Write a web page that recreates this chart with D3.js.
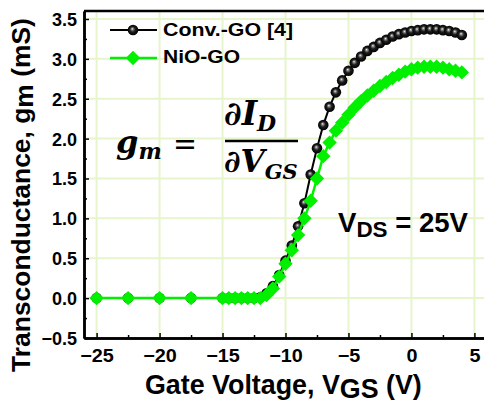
<!DOCTYPE html>
<html>
<head>
<meta charset="utf-8">
<script src="https://cdn.jsdelivr.net/npm/d3@7"></script>
<style>
  body { margin: 0; background: #fff; }
  svg text { font-family: "Liberation Sans", Arial, sans-serif; font-weight: bold; }
</style>
</head>
<body>
<div id="chart"></div>
<script>
// gate voltage sweep (V)
var vgs = [-25, -22.5, -20, -17.5,
  -15, -14.5, -14, -13.5, -13, -12.5, -12, -11.5, -11, -10.5, -10, -9.5, -9, -8.5, -8, -7.5,
  -7, -6.5, -6, -5.5, -5, -4.5, -4, -3.5, -3, -2.5, -2, -1.5, -1, -0.5,
  0, 0.5, 1, 1.5, 2, 2.5, 3, 3.5, 4];

// transconductance (mS)
var convGO = [0, 0, 0, 0,
  0, 0, 0, 0, 0, 0, 0.01, 0.06, 0.15, 0.29, 0.47, 0.66, 0.9, 1.19, 1.55, 1.88,
  2.17, 2.4, 2.58, 2.73, 2.85, 2.95, 3.03, 3.1, 3.15, 3.2, 3.24, 3.28, 3.31, 3.33,
  3.35, 3.36, 3.37, 3.37, 3.37, 3.36, 3.35, 3.33, 3.3];

var nioGO = [0, 0, 0, 0,
  0, 0, 0, 0, 0, 0, 0, 0.04, 0.12, 0.27, 0.43, 0.6, 0.79, 1.0, 1.22, 1.5,
  1.78, 1.95, 2.1, 2.2, 2.3, 2.39, 2.47, 2.54, 2.6, 2.66, 2.71, 2.76, 2.8, 2.84,
  2.87, 2.89, 2.9, 2.9, 2.9, 2.89, 2.87, 2.85, 2.83];

var xTicks = [-25, -20, -15, -10, -5, 0, 5];
var xMinor = [-22.5, -17.5, -12.5, -7.5, -2.5, 2.5];
var yTicks = [-0.5, 0, 0.5, 1, 1.5, 2, 2.5, 3, 3.5];
var yMinor = [-0.25, 0.25, 0.75, 1.25, 1.75, 2.25, 2.75, 3.25];

var seriesNames = ["Conv.-GO [4]", "NiO-GO"];

var w = 484, h = 403;
var mLeft = 84, mTop = 11, mRight = 487, mBottom = 338;

var svg = d3.select("#chart").append("svg")
  .attr("width", w).attr("height", h);

var defs = svg.append("defs");
var grad = defs.append("radialGradient").attr("id", "ball")
  .attr("cx", "50%").attr("cy", "50%").attr("r", "50%")
  .attr("fx", "42%").attr("fy", "38%");
grad.append("stop").attr("offset", "0%").attr("stop-color", "#ffffff");
grad.append("stop").attr("offset", "18%").attr("stop-color", "#8c8c8c");
grad.append("stop").attr("offset", "50%").attr("stop-color", "#1e1e1e");
grad.append("stop").attr("offset", "100%").attr("stop-color", "#000000");

var x = d3.scaleLinear().domain([-26, 6]).range([mLeft, mRight]);
var y = d3.scaleLinear().domain([-0.5, 3.6]).range([mBottom, mTop]);

// grid
var gridColor = "#e6f5cc";
svg.append("g").selectAll("line").data(xTicks).enter().append("line")
  .attr("x1", function(d){ return x(d); }).attr("x2", function(d){ return x(d); })
  .attr("y1", mTop).attr("y2", mBottom)
  .style("stroke", gridColor).style("stroke-width", 2);
svg.append("g").selectAll("line").data(yTicks).enter().append("line")
  .attr("x1", mLeft).attr("x2", mRight)
  .attr("y1", function(d){ return y(d); }).attr("y2", function(d){ return y(d); })
  .style("stroke", gridColor).style("stroke-width", 2);

// axes (ticks inside)
var xAxis = svg.append("g").attr("transform", "translate(0," + mBottom + ")")
  .call(d3.axisBottom(x).tickValues(xTicks).tickSizeInner(-5).tickSizeOuter(0).tickPadding(11)
    .tickFormat(d3.format("d")));
var xAxisMinor = svg.append("g").attr("transform", "translate(0," + mBottom + ")")
  .call(d3.axisBottom(x).tickValues(xMinor).tickSizeInner(-3).tickSizeOuter(0).tickFormat(""));
var yAxis = svg.append("g").attr("transform", "translate(" + mLeft + ",0)")
  .call(d3.axisLeft(y).tickValues(yTicks).tickSizeInner(-5).tickSizeOuter(0).tickPadding(7)
    .tickFormat(d3.format(".1f")));
var yAxisMinor = svg.append("g").attr("transform", "translate(" + mLeft + ",0)")
  .call(d3.axisLeft(y).tickValues(yMinor).tickSizeInner(-3).tickSizeOuter(0).tickFormat(""));

[xAxis, xAxisMinor, yAxis, yAxisMinor].forEach(function(a){
  a.select(".domain").style("stroke", "#000").style("stroke-width", 2.5);
  a.selectAll(".tick line").style("stroke", "#000").style("stroke-width", 1.5);
  a.selectAll(".tick text").style("font-size", "18px").style("fill", "#000")
    .style("font-family", "'Liberation Sans', Arial, sans-serif").style("font-weight", "bold");
});
yAxis.selectAll(".tick text").attr("dy", "0.36em");
xAxis.selectAll(".tick text").attr("transform", "scale(1.1,1)");

// top frame
svg.append("line").attr("x1", mLeft).attr("x2", mRight).attr("y1", mTop).attr("y2", mTop)
  .style("stroke", "#000").style("stroke-width", 2.5);

var pts = vgs.map(function(v, i){ return { v: v, a: convGO[i], b: nioGO[i] }; });

var lineA = d3.line().x(function(d){ return x(d.v); }).y(function(d){ return y(d.a); });
var lineB = d3.line().x(function(d){ return x(d.v); }).y(function(d){ return y(d.b); });

// Conv.-GO
svg.append("path").datum(pts).attr("d", lineA)
  .style("fill", "none").style("stroke", "#000").style("stroke-width", 2);
svg.append("g").selectAll("circle").data(pts).enter().append("circle")
  .attr("cx", function(d){ return x(d.v); }).attr("cy", function(d){ return y(d.a); })
  .attr("r", 5.3).style("fill", "url(#ball)");

// NiO-GO (square markers turned 45 degrees)
var green = "#00f000";
var diamond = d3.symbol().type(d3.symbolSquare).size(104);
svg.append("path").datum(pts).attr("d", lineB)
  .style("fill", "none").style("stroke", green).style("stroke-width", 2.5);
svg.append("g").selectAll("path").data(pts).enter().append("path")
  .attr("d", diamond)
  .attr("transform", function(d){ return "translate(" + x(d.v) + "," + y(d.b) + ") rotate(45)"; })
  .style("fill", green);

// legend
var lg = svg.append("g");
lg.append("line").attr("x1", 110).attr("x2", 157).attr("y1", 30).attr("y2", 30)
  .style("stroke", "#000").style("stroke-width", 2);
lg.append("circle").attr("cx", 133).attr("cy", 30).attr("r", 5.3)
  .style("fill", "url(#ball)");
lg.append("line").attr("x1", 110).attr("x2", 157).attr("y1", 58).attr("y2", 58)
  .style("stroke", green).style("stroke-width", 2.5);
lg.append("path").attr("d", diamond).attr("transform", "translate(133,58) rotate(45)").style("fill", green);
var legendW = [130, 77];
lg.selectAll("text").data(seriesNames).enter().append("text")
  .attr("x", 163).attr("y", function(d, i){ return 36 + i * 27; })
  .attr("textLength", function(d, i){ return legendW[i]; })
  .attr("lengthAdjust", "spacingAndGlyphs")
  .style("font-size", "18px").text(function(d){ return d; });

// equation
var serif = "'DejaVu Serif', serif";
var t1 = svg.append("text").attr("x", 116).attr("y", 153).style("font-size", "32px")
  .style("font-family", serif).style("font-style", "italic");
t1.append("tspan").text("g");
t1.append("tspan").attr("dy", 6).style("font-size", "22px").text("m");
svg.append("text").attr("x", 173).attr("y", 155).style("font-size", "32px").style("font-weight", "normal")
  .style("font-family", serif).attr("textLength", 24).attr("lengthAdjust", "spacingAndGlyphs").text("=");
var t2 = svg.append("text").attr("x", 224).attr("y", 125).style("font-size", "33px")
  .style("font-family", serif).style("font-style", "italic");
t2.append("tspan").text("\u2202I");
t2.append("tspan").attr("dy", 6).style("font-size", "22px").text("D");
svg.append("line").attr("x1", 225).attr("x2", 298).attr("y1", 141).attr("y2", 141)
  .style("stroke", "#000").style("stroke-width", 2.5);
var t3 = svg.append("text").attr("x", 224).attr("y", 172).style("font-size", "31px")
  .style("font-family", serif).style("font-style", "italic");
t3.append("tspan").text("\u2202V");
t3.append("tspan").attr("dy", 7).style("font-size", "21px").text("GS");

// VDS annotation
var vds = svg.append("text").attr("x", 338).attr("y", 232).style("font-size", "27px");
vds.append("tspan").text("V");
vds.append("tspan").attr("dy", 5).style("font-size", "22px").text("DS");
vds.append("tspan").attr("dy", -5).text(" = 25V");
fitWidth(vds, 130);

// axis titles
var xt = svg.append("text").attr("x", 145).attr("y", 394).style("font-size", "27px");
xt.append("tspan").text("Gate Voltage, V");
xt.append("tspan").attr("dy", 4).text("GS");
xt.append("tspan").attr("dy", -4).text(" (V)");
fitWidth(xt, 277);

var yt = svg.append("text").attr("transform", "translate(30,195) rotate(-90)")
  .attr("text-anchor", "middle").style("font-size", "27px");
yt.append("tspan").text("Transconductance, g");
yt.append("tspan").attr("dy", 3).text("m");
yt.append("tspan").attr("dy", -3).text(" (mS)");
fitWidth(yt, 354);

// squeeze or stretch a text to the width it has in the picture
function fitWidth(sel, target) {
  var node = sel.node();
  var len = node.getComputedTextLength();
  var fs = parseFloat(sel.style("font-size"));
  var k = target / len;
  sel.style("font-size", (fs * k) + "px");
  sel.selectAll("tspan").each(function(){
    var t = d3.select(this);
    if (this.style.fontSize) t.style("font-size", (parseFloat(this.style.fontSize) * k) + "px");
  });
}
</script>
</body>
</html>
